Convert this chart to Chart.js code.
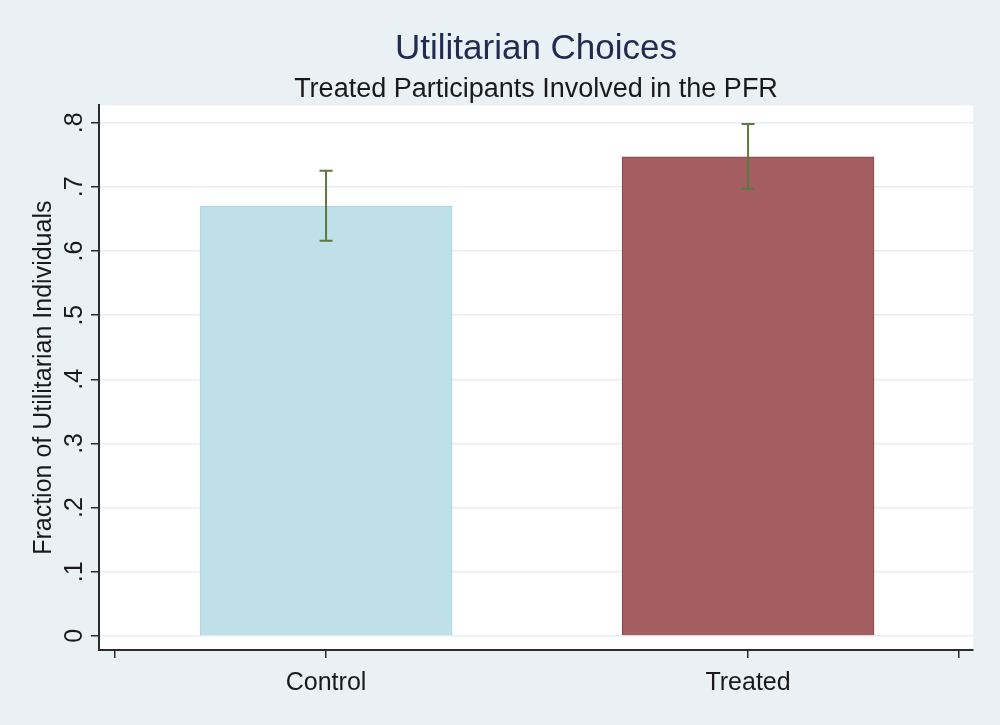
<!DOCTYPE html>
<html>
<head>
<meta charset="utf-8">
<script src="https://cdn.jsdelivr.net/npm/chart.js@4"></script>
<style>
  html, body { margin: 0; padding: 0; background: #e9f1f4; }
  #wrap { width: 1000px; height: 725px; }
</style>
</head>
<body>
<div id="wrap"><canvas id="chart"></canvas></div>
<script>
const groups = ["Control", "Treated"];
const groupPos = [1, 3];
const means = [0.670, 0.747];
const ciLow = [0.616, 0.697];
const ciHigh = [0.725, 0.798];
const yTicks = [0, 0.1, 0.2, 0.3, 0.4, 0.5, 0.6, 0.7, 0.8];
const yTickLabels = ["0", ".1", ".2", ".3", ".4", ".5", ".6", ".7", ".8"];
const xTicks = [0, 1, 3, 4];

// error bars drawn on top of the bars
const errorBars = {
  id: "errorBars",
  afterDatasetsDraw(chart) {
    const ctx = chart.ctx;
    const x = chart.scales.x;
    const y = chart.scales.y;
    ctx.save();
    ctx.strokeStyle = "#5b7a3d";
    ctx.lineWidth = 2;
    for (let i = 0; i < groups.length; i++) {
      const px = x.getPixelForValue(groupPos[i]);
      const top = y.getPixelForValue(ciHigh[i]);
      const bot = y.getPixelForValue(ciLow[i]);
      ctx.beginPath();
      ctx.moveTo(px, top); ctx.lineTo(px, bot);
      ctx.moveTo(px - 6.5, top); ctx.lineTo(px + 6.5, top);
      ctx.moveTo(px - 6.5, bot); ctx.lineTo(px + 6.5, bot);
      ctx.stroke();
    }
    ctx.restore();
  }
};

// white plot region
const plotBg = {
  id: "plotBg",
  beforeDraw(chart) {
    const a = chart.chartArea;
    chart.ctx.save();
    chart.ctx.fillStyle = "#ffffff";
    chart.ctx.fillRect(a.left, a.top, a.right - a.left, a.bottom - a.top);
    chart.ctx.restore();
  }
};

new Chart(document.getElementById("chart"), {
  type: "bar",
  data: {
    datasets: [{
      data: groups.map((g, i) => ({ x: groupPos[i], y: means[i] })),
      backgroundColor: ["#bfe0e8", "#a45e62"],
      borderColor: ["#a9d3de", "#8a3d45"],
      borderWidth: 1,
      borderSkipped: "bottom",
      barThickness: 252
    }]
  },
  options: {
    responsive: true,
    maintainAspectRatio: false,
    animation: false,
    layout: { padding: { left: 29, right: 27, top: 7, bottom: 17 } },
    plugins: {
      legend: { display: false },
      tooltip: { enabled: false },
      title: {
        display: true,
        text: "Utilitarian Choices",
        fullSize: false,
        color: "#1f2b50",
        font: { family: "Liberation Sans", size: 35, weight: "normal" },
        padding: { top: 21, bottom: 3 }
      },
      subtitle: {
        display: true,
        text: "Treated Participants Involved in the PFR",
        fullSize: false,
        color: "#1a1a1a",
        font: { family: "Liberation Sans", size: 27 },
        padding: { top: 0, bottom: 0 }
      }
    },
    scales: {
      x: {
        type: "linear",
        offset: false,
        min: -0.076,
        max: 4.066,
        afterBuildTicks: s => { s.ticks = xTicks.map(v => ({ value: v })); },
        ticks: {
          color: "#1a1a1a",
          font: { family: "Liberation Sans", size: 25 },
          padding: 10,
          callback: v => { const i = groupPos.indexOf(v); return i >= 0 ? groups[i] : ""; }
        },
        grid: { offset: false, drawOnChartArea: false, drawTicks: true, tickLength: 8, color: "#2b2b2b", lineWidth: 1.5 },
        border: { color: "#2b2b2b", width: 2 }
      },
      y: {
        min: -0.022,
        max: 0.827,
        afterBuildTicks: s => { s.ticks = yTicks.map(v => ({ value: v })); },
        ticks: {
          color: "#1a1a1a",
          font: { family: "Liberation Sans", size: 25 },
          minRotation: 90,
          maxRotation: 90,
          crossAlign: "center",
          padding: 5,
          callback: v => yTickLabels[yTicks.indexOf(v)]
        },
        grid: {
          color: "#e8eef1",
          lineWidth: 1.5,
          tickColor: "#2b2b2b",
          tickLength: 8
        },
        border: { color: "#2b2b2b", width: 2 },
        title: {
          display: true,
          text: "Fraction of Utilitarian Individuals",
          color: "#1a1a1a",
          font: { family: "Liberation Sans", size: 25 },
          padding: { top: 0, bottom: -8 }
        }
      }
    }
  },
  plugins: [plotBg, errorBars]
});
</script>
</body>
</html>
